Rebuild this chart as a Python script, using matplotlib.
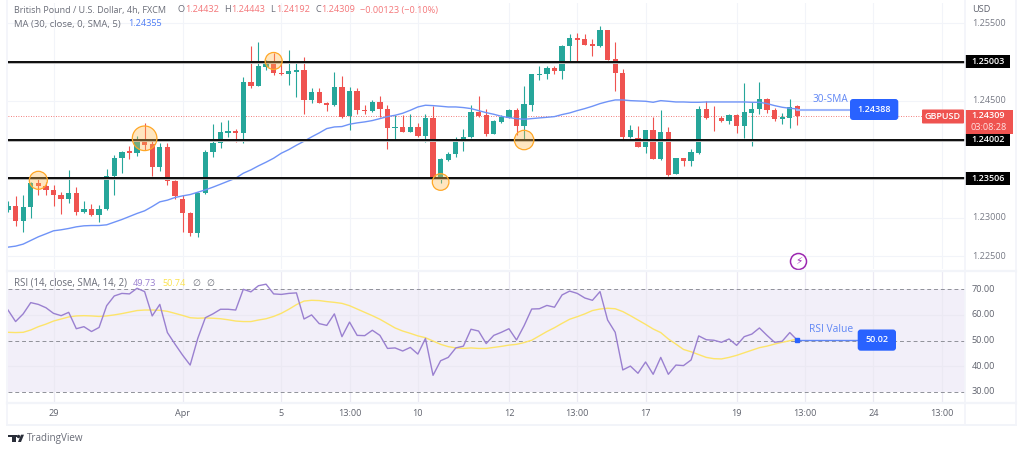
import numpy as np
import matplotlib
matplotlib.use("Agg")
import matplotlib.pyplot as plt
from matplotlib.patches import FancyBboxPatch, Polygon, Rectangle

plt.rcParams['font.family'] = ['Open Sans', 'DejaVu Sans']

# prices in 1e-5 USD (pipettes)
highs = [123214,123270,123291,123462,123505,123462,123420,123334,123612,123398,123218,123176,123163,123621,123805,123860,123920,124049,124220,123997,123963,123963,123484,123291,123073,123334,123869,124199,124233,124254,124139,124802,125209,125251,125025,125119,125003,125153,125012,125059,124661,124661,124490,124866,124819,124674,124661,124447,124511,124562,124443,124318,124318,124331,124220,124331,124434,123762,123843,124040,124134,124443,124562,124391,124254,124318,124400,124404,124691,124845,124952,124952,124952,125217,125358,125376,125358,125290,125465,125410,125251,124909,124190,124177,124126,124297,124383,124169,123762,123771,123878,124434,124498,124434,124306,124331,124327,124725,124490,124746,124541,124404,124348,124524,124443]
lows = [123077,122885,122808,122992,123291,123283,123154,123043,123184,123034,123056,123013,122936,123090,123291,123569,123753,123792,123869,123539,123599,123420,123236,122820,122756,122748,123304,123775,123890,124032,123976,123955,124661,124695,124896,124832,124836,124704,124554,124331,124477,124468,124370,124434,124276,124126,124331,124331,124361,124288,123882,123997,124104,124096,124040,123967,123497,123441,123728,123783,123860,124027,124297,124053,124070,124211,124276,124062,123997,124374,124768,124781,124845,124785,125003,125003,125213,125076,125196,125020,124631,123989,124027,123903,123835,123749,123741,123539,123557,123664,123668,123813,124263,124117,124229,124203,124092,124023,123925,124331,124348,124246,124203,124147,124192]
opens = [123099,123154,122953,123129,123441,123407,123355,123287,123240,123317,123073,123107,123034,123107,123539,123766,123852,123835,123989,123946,123655,123912,123467,123244,123060,122799,123313,123843,123963,124087,124109,124092,124746,124695,124939,125003,124862,124845,124875,124892,124515,124609,124477,124451,124682,124306,124622,124387,124370,124481,124395,124156,124169,124104,124164,124049,124284,123497,123741,123813,123972,124032,124357,124314,124079,124233,124284,124378,124173,124447,124832,124845,124922,124883,125209,125311,125290,125230,125200,125406,125033,124853,124040,124027,123908,124122,123758,124100,123561,123766,123723,123835,124391,124284,124284,124237,124314,124173,124348,124391,124520,124383,124271,124284,124432]
closes = [123150,122953,123133,123441,123407,123355,123283,123240,123317,123077,123107,123034,123107,123539,123766,123848,123835,123989,123933,123655,123912,123467,123278,123056,122799,123321,123848,123963,124096,124109,124092,124746,124695,124943,125007,124853,124845,124883,124892,124515,124609,124472,124451,124682,124297,124622,124383,124374,124481,124391,124156,124169,124104,124164,124049,124284,123505,123749,123822,123972,124032,124357,124310,124079,124246,124297,124378,124173,124460,124841,124845,124922,124879,125209,125311,125286,125221,125204,125406,125025,124853,124040,124122,123908,124122,123758,124100,123552,123762,123723,123839,124391,124276,124276,124237,124314,124173,124357,124391,124520,124383,124263,124293,124425,124309]
ma_30 = [122619,122632,122658,122705,122752,122790,122829,122842,122859,122880,122893,122897,122897,122906,122940,122974,123013,123052,123086,123141,123201,123223,123257,123278,123295,123325,123355,123390,123428,123467,123505,123569,123612,123664,123711,123762,123826,123873,123929,123980,124036,124087,124143,124164,124169,124199,124216,124229,124246,124271,124297,124314,124340,124378,124421,124443,124438,124430,124421,124421,124413,124400,124374,124348,124327,124301,124284,124271,124263,124271,124280,124288,124297,124323,124344,124374,124400,124430,124464,124490,124511,124511,124502,124498,124494,124481,124502,124494,124485,124485,124481,124481,124485,124485,124485,124485,124485,124485,124481,124481,124464,124438,124417,124404,124395]
rsi = [61.9,57.4,60.4,64.8,64.1,62.8,60.6,59.7,61.0,54.6,55.4,53.5,55.1,63.6,67.4,68.4,68.2,70.4,69.1,59.6,64.1,53.1,48.6,44.3,40.4,50.8,58.9,60.4,62.2,62.2,61.9,70.0,69.0,71.4,72.0,68.2,68.0,68.4,68.6,58.4,60.0,56.6,55.9,60.4,51.5,57.2,52.0,51.9,54.0,52.0,46.9,47.1,45.9,47.3,44.7,50.8,36.4,42.1,43.4,47.1,47.8,54.4,53.7,48.8,52.0,53.2,54.6,50.2,55.8,62.3,62.4,63.7,63.0,67.8,69.3,68.4,66.6,65.7,69.1,58.0,53.2,38.5,40.0,37.2,41.6,36.8,43.4,36.8,40.4,40.2,42.4,51.8,50.3,50.1,49.3,50.6,48.1,51.5,52.5,54.9,52.0,49.3,49.7,53.1,50.1]
rsi_sma = [53.2,53.1,53.2,54.1,55.4,56.4,57.6,58.4,59.2,59.6,59.7,59.6,59.4,59.6,60.0,60.5,61.1,61.7,61.9,61.9,61.8,61.4,60.6,59.8,58.9,58.7,58.8,58.7,58.5,58.1,57.6,57.4,57.4,58.0,58.5,59.4,60.6,62.2,64.0,65.4,65.7,65.6,65.2,64.9,64.5,63.6,62.3,61.0,59.7,58.3,56.6,54.9,53.7,52.8,51.8,51.1,49.8,48.5,47.6,47.1,46.9,47.1,46.9,46.9,47.3,47.7,48.2,48.5,49.2,50.1,51.8,53.5,55.0,56.7,58.3,59.3,60.4,61.7,62.3,62.6,62.4,61.3,59.7,58.0,56.3,54.5,53.1,50.6,48.6,46.5,45.6,44.5,43.4,42.9,42.8,43.4,44.2,45.2,46.2,47.2,47.8,48.6,49.3,49.9,50.6]

support_levels = [1.25003, 1.24002, 1.23506]
support_labels = ['1.25003', '1.24002', '1.23506']
price_ticks = [1.255, 1.245, 1.23, 1.225]
price_tick_labels = ['1.25500', '1.24500', '1.23000', '1.22500']
price_grid = [1.255, 1.25, 1.245, 1.24, 1.235, 1.23, 1.225]
rsi_ticks = [70, 60, 50, 40, 30]
rsi_tick_labels = ['70.00', '60.00', '50.00', '40.00', '30.00']
x_ticks = [6, 23, 36, 45, 54, 66, 75, 84, 96, 105, 114, 123]
x_tick_labels = ['29', 'Apr', '5', '13:00', '10', '12', '13:00', '17', '19', '13:00', '24', '13:00']
circle_x = [4, 18, 35, 57, 68]
circle_y = [1.23478, 1.24018, 1.25012, 1.23456, 1.23996]
circle_r = [9, 12.3, 8.5, 8.3, 9.7]
last_price = 1.24309
sma_value = 1.24388
rsi_value = 50.02

GREEN, RED = '#26a69a', '#ef5350'
BLUE = '#2962ff'
GRAY = '#787b86'
GRID = '#f2f4f9'
W, H = 1024, 453
L, R = 8, 965
FR = 1015.5
X0, STEP = 8.0, 7.59

fig = plt.figure(figsize=(W/100, H/100), dpi=100, facecolor='white')
def axes_px(l, t, r, b, **k):
    return fig.add_axes([l/W, 1-b/H, (r-l)/W, (b-t)/H], **k)

xlim = ((L-X0)/STEP, (R-X0)/STEP)
ax = axes_px(L, 3, R, 269)
ax.set_xlim(*xlim)
ax.set_ylim(1.255-(269-23)/7780, 1.255+20/7780)
rx = axes_px(L, 272, R, 402.5)
rx.set_xlim(*xlim)
rx.set_ylim(30-(402.5-391.7)/2.56, 70+(289.3-272)/2.56)
for a in (ax, rx):
    a.set_xticks([]); a.set_yticks([])
    for s in a.spines.values():
        s.set_visible(False)
    for t in x_ticks:
        a.axvline(t, color=GRID, lw=0.8, zorder=0)

idx = np.arange(len(opens))
o, h, l, c = [np.array(v)/1e5 for v in (opens, highs, lows, closes)]
cols = [GREEN if ci >= oi else RED for oi, ci in zip(o, c)]
for p in price_grid:
    ax.axhline(p, color=GRID, lw=0.8, zorder=0)
ax.vlines(idx, l, h, color=cols, lw=0.8, zorder=2)
ax.bar(idx, np.maximum(np.abs(c-o), 0.00004), bottom=np.minimum(o, c), width=0.70, color=cols, lw=0, zorder=3)
ax.plot(idx, np.array(ma_30)/1e5, color='#6f93f7', lw=1.0, zorder=4)
for lv in support_levels:
    ax.axhline(lv, color='#b5b5b5', lw=2.1, zorder=4.5)
    ax.axhline(lv, color='black', lw=1.3, zorder=5)
ax.axhline(last_price, color=RED, lw=0.6, ls=(0, (1, 2)), zorder=1)
ax.scatter(circle_x, circle_y, s=[(2*r*0.72)**2 for r in circle_r], facecolor=(1, 0.72, 0.3, 0.35),
           edgecolor='#ffa726', lw=0.9, zorder=6)
ax.plot([idx[-1], (851-X0)/STEP], [sma_value]*2, color='#9db6fb', lw=1.5, zorder=4)

rx.axhspan(30, 70, color='#f2eff9', lw=0, zorder=0)
for t in x_ticks:
    rx.axvline(t, color='#ebe9f3', lw=0.8, zorder=0.5)
for v in (60, 40):
    rx.axhline(v, color='#ebe9f3', lw=0.8, zorder=0.5)
for v in (70, 50, 30):
    rx.axhline(v, color='#8f9199', lw=0.7, ls=(0, (4, 3)), zorder=1)
rx.plot(idx, rsi_sma, color='#fde46a', lw=1.0, zorder=2)
rx.plot(idx, rsi, color='#9a80d0', lw=1.0, zorder=3)
rx.plot([idx[-1], (859-X0)/STEP], [rsi_value]*2, color='#5f86f5', lw=1.0, zorder=3)
rx.plot([idx[-1]], [rsi_value], 's', color=BLUE, ms=2.2, zorder=4)

# overlay in pixels for the TradingView chrome
ov = fig.add_axes([0, 0, 1, 1], facecolor='none', zorder=10)
ov.set_xlim(0, W); ov.set_ylim(H, 0); ov.axis('off')
def T(x, y, s, color=GRAY, size=6.6, ha='left', **k):
    ov.text(x, y, s, color=color, fontsize=size, ha=ha, va='center', **k)
def box(x0, y0, x1, y1, color, rad=0):
    if rad:
        ov.add_patch(FancyBboxPatch((x0+rad, y0+rad), x1-x0-2*rad, y1-y0-2*rad,
                     boxstyle=f'round,pad={rad},rounding_size={rad}', fc=color, ec='none'))
    else:
        ov.add_patch(Rectangle((x0, y0), x1-x0, y1-y0, fc=color, ec='none'))

ov.plot([7, 7], [0, 425], color=GRID, lw=1.2)
ov.plot([R, R], [0, 425], color=GRID, lw=1.2)
ov.plot([FR, FR], [0, 425], color=GRID, lw=1.2)
ov.plot([7, FR], [270.5, 270.5], color=GRID, lw=1.6)
ov.plot([7, FR], [403, 403], color=GRID, lw=1.6)
ov.plot([7, FR], [424.5, 424.5], color=GRID, lw=1.4)

# header
dark = '#6a6d78'
T(14, 10, 'British Pound / U.S. Dollar, 4h, FXCM', dark, size=6.45)
for xl, lb, xv, val in [(178, 'O', 185, '1.24432'), (224.5, 'H', 231, '1.24443'), (270, 'L', 276, '1.24192'), (315, 'C', 321, '1.24309')]:
    T(xl, 10, lb, dark); T(xv, 10, val, '#f4777a')
T(360, 10, '−0.00123 (−0.10%)', '#f4777a')
T(14, 24, 'MA (30, close, 0, SMA, 5)', dark, size=6.8)
T(128, 24, '1.24355', '#4f7df5')
T(14, 283, 'RSI (14, close, SMA, 14, 2)', dark, size=6.9)
T(133, 283, '49.73', '#9a80d0')
T(162, 283, '50.74', '#fbe24f')
T(192, 283, '∅', dark); T(206, 283, '∅', dark)

# price axis
T(972.5, 9, 'USD', '#5f626d')
for p, s in zip(price_ticks, price_tick_labels):
    T(971.7, 23+(1.255-p)*7780, s)
for lv, s in zip(support_levels, support_labels):
    y = 23+(1.255-lv)*7780
    box(965, y-6.5, 1009.5, y+6.5, 'black')
    T(988, y, s, 'white', ha='center', fontweight='semibold', size=6.5)
box(965, 109.5, 1012.7, 134, RED)
T(988.5, 116, '1.24309', 'white', ha='center', fontweight='semibold', size=6.5)
T(988.5, 127.5, '03:08:28', '#ffe3e3', ha='center')
box(922, 109.5, 964, 123.5, RED, 1)
T(943, 116.5, 'GBPUSD', 'white', ha='center', fontweight='semibold', size=6.5)

# annotations
T(812.3, 100, '30-SMA', '#5f86f5', size=7.2)
box(850, 99, 898.3, 120, BLUE, 3)
T(874, 109.5, '1.24388', 'white', ha='center', fontweight='semibold', size=6.5)
T(809, 330, 'RSI Value', '#5f86f5', size=7.4)
box(857.7, 329.5, 896, 350.7, BLUE, 3)
T(877, 340, '50.02', 'white', ha='center', fontweight='semibold', size=6.5)

# rsi axis
for v, s in zip(rsi_ticks, rsi_tick_labels):
    T(971.7, 340.5-(v-50)*2.56, s, '#5f626d')
# time axis
for t, s in zip(x_ticks, x_tick_labels):
    T(X0+STEP*t, 413.5, s, '#5f626d', ha='center')

# bolt badge
ov.scatter([798.3], [260.7], s=(2*8*0.72)**2, facecolor='white', edgecolor='#9c27b0', lw=1.1)
ov.text(798.3, 260.7, '⚡', color='#9c27b0', fontsize=7.5, ha='center', va='center', family='DejaVu Sans')

# logo
k = '#2a2e39'
ov.add_patch(Rectangle((8, 434.7), 8.5, 2.6, fc=k, ec='none'))
ov.add_patch(Rectangle((12, 434.7), 3.5, 7.3, fc=k, ec='none'))
ov.scatter([18.3], [436], s=6, color=k, lw=0)
ov.add_patch(Polygon([[18, 442], [21, 434.7], [24, 434.7], [21, 442]], fc=k, ec='none'))
T(26.7, 438.5, 'TradingView', '#6a6d78', size=7.1)

fig.savefig('out.png', dpi=100, facecolor='white')
